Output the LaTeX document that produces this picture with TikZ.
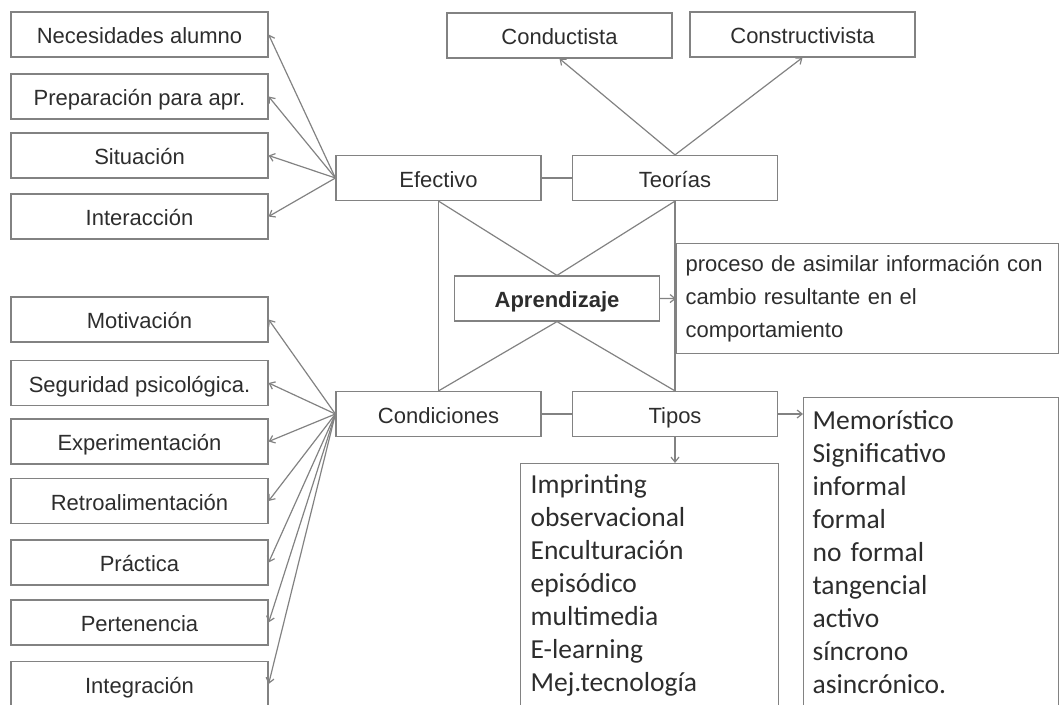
\documentclass[tikz,border=0pt]{standalone}
\usepackage{fontspec}
\setmainfont{Liberation Sans}
\newfontfamily\listfont{Carlito}
\usetikzlibrary{arrows.meta}
\definecolor{linegray}{RGB}{130,130,130}
\definecolor{textgray}{RGB}{45,45,45}

\begin{document}
\begin{tikzpicture}[x=1pt,y=-1pt,
    box/.style={draw=linegray, line width=1.2pt, minimum height=45pt, inner sep=0pt,
      text height=18pt, text depth=0pt,
      text=textgray, font=\fontsize{22}{25}\selectfont},
    leftbox/.style={box, minimum width=257pt},
    midbox/.style={box, minimum width=205pt},
    topbox/.style={box, minimum width=225pt},
    listbox/.style={draw=linegray, line width=1.2pt, anchor=north west, align=left,
      inner ysep=0pt, text=textgray},
    link/.style={draw=linegray, line width=1.2pt},
    arr/.style={link, -{Straight Barb[length=5pt,width=8pt]}}
  ]

  \useasboundingbox (0,0) rectangle (1060,704);

  % draw middle boxes
  \node[midbox] (efectivo) at (438.5,178) {Efectivo};
  \node[midbox] (teorias) at (675,178) {Teorías};
  \node[midbox, font=\bfseries\fontsize{22}{25}\selectfont] (aprendizaje) at (557,298.5) {Aprendizaje};
  \node[midbox] (condiciones) at (438.5,414) {Condiciones};
  \node[midbox] (tipos) at (675,414) {Tipos};

  % draw theory boxes
  \node[topbox] (conductista) at (559.5,35.5) {Conductista};
  \node[topbox] (constructivista) at (802.5,34.5) {Constructivista};

  % draw left boxes
  \foreach \name/\y/\txt in {necesidades/34.5/Necesidades alumno,
      preparacion/96.5/Preparación para apr., situacion/155.5/Situación,
      interaccion/216.5/Interacción}
    \node[leftbox] (\name) at (139.5,\y) {\txt};
  \foreach \name/\y/\txt in {motivacion/319.5/Motivación,
      seguridad/383/Seguridad psicológica., experimentacion/441.5/Experimentación,
      retro/501/Retroalimentación, practica/562.5/Práctica,
      pertenencia/622.5/Pertenencia, integracion/684/Integración}
    \node[leftbox] (\name) at (139.5,\y) {\txt};

  % draw text boxes
  \node[listbox, text width=364pt, inner xsep=9pt, minimum height=110pt,
    font=\fontsize{22}{33}\selectfont] (definicion) at (676,243)
    {proceso de asimilar información con\\cambio resultante en el\\comportamiento};
  \node[listbox, text width=238pt, inner xsep=10pt, minimum height=243pt,
    font=\listfont\fontsize{27.5}{33}\selectfont] (lista1) at (520,463)
    {Imprinting\\observacional\\Enculturación\\episódico\\multimedia\\E-learning\\Mej.tecnología};
  \node[listbox, text width=237pt, inner xsep=9pt, minimum height=309pt,
    font=\listfont\fontsize{27.5}{33}\selectfont] (lista2) at (803,397)
    {Memorístico\\Significativo\\informal\\formal\\no formal\\tangencial\\activo\\síncrono\\asincrónico.};

  % draw connectors
  \draw[link] (efectivo) -- (teorias);
  \draw[link] (condiciones) -- (tipos);
  \draw[link] (efectivo.south) -- (condiciones.north);
  \draw[link] (teorias.south) -- (tipos.north);
  \draw[link] (efectivo.south) -- (aprendizaje.north) -- (teorias.south);
  \draw[link] (condiciones.north) -- (aprendizaje.south) -- (tipos.north);

  % draw arrows
  \draw[arr] (teorias.north) -- (conductista.south);
  \draw[arr] (teorias.north) -- (constructivista.south);
  \draw[arr] (aprendizaje.east) -- (definicion.west);
  \draw[arr] (tipos.east) -- (tipos.east -| lista2.west);
  \draw[arr] (tipos.south) -- (tipos.south |- lista1.north);
  \foreach \name in {necesidades,preparacion,situacion,interaccion}
    \draw[arr] (efectivo.west) -- (\name.east);
  \foreach \name in {motivacion,seguridad,experimentacion,retro,practica,pertenencia,integracion}
    \draw[arr] (condiciones.west) -- (\name.east);
\end{tikzpicture}
\end{document}
